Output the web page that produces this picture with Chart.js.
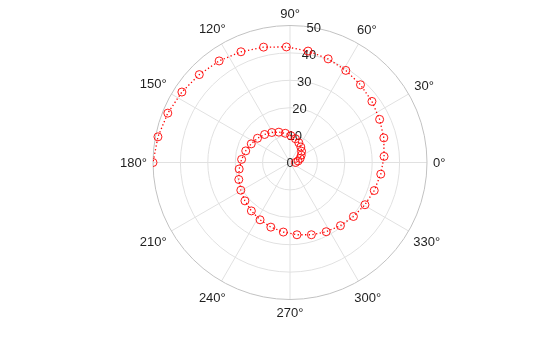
<!DOCTYPE html>
<html>
<head>
<meta charset="utf-8">
<script src="https://cdn.jsdelivr.net/npm/chart.js@4/dist/chart.umd.min.js"></script>
<style>
  html, body { margin: 0; padding: 0; background: #ffffff; }
  #wrap { width: 560px; height: 337px; }
</style>
</head>
<body>
<div id="wrap"><canvas id="c" width="560" height="337"></canvas></div>
<script>
// Angle of each point (degrees) and its radius
const thetaDeg = [0, 11.0, 22.0, 33.1, 44.1, 55.1, 66.1, 77.1, 88.2, 99.2,
  110.2, 121.2, 132.2, 143.3, 154.3, 165.3, 176.3, 187.3, 198.4, 209.4,
  220.4, 231.4, 242.4, 253.5, 264.5, 275.5, 286.5, 297.6, 308.6, 319.6,
  330.6, 341.6, 352.7, 363.7, 374.7, 385.7, 396.7, 407.8, 418.8, 429.8,
  440.8, 451.8, 462.9, 473.9, 484.9, 495.9, 506.9, 518.0, 529.0, 540.0];
const rho = [2.0, 3.0, 4.0, 4.9, 5.9, 6.9, 7.9, 8.9, 9.8, 10.8,
  11.8, 12.8, 13.8, 14.8, 15.7, 16.7, 17.7, 18.7, 19.7, 20.6,
  21.6, 22.6, 23.6, 24.6, 25.5, 26.5, 27.5, 28.5, 29.5, 30.4,
  31.4, 32.4, 33.4, 34.4, 35.4, 36.3, 37.3, 38.3, 39.3, 40.3,
  41.2, 42.2, 43.2, 44.2, 45.2, 46.1, 47.1, 48.1, 49.1, 50.0];
const rTicks = [0, 10, 20, 30, 40, 50];
const rTickLabels = ['0', '10', '20', '30', '40', '50'];
const thetaTicks = [0, 30, 60, 90, 120, 150, 180, 210, 240, 270, 300, 330];
const thetaTickLabels = ['0°', '30°', '60°', '90°', '120°', '150°', '180°', '210°', '240°', '270°', '300°', '330°'];
const rMax = 50;
const rLabelAngle = 80;

const points = thetaDeg.map((t, i) => {
  const a = t * Math.PI / 180;
  return { x: rho[i] * Math.cos(a), y: rho[i] * Math.sin(a) };
});

const FONT = '13px "Liberation Sans", Arial, Helvetica, sans-serif';

const polarGrid = {
  id: 'polarGrid',
  beforeDatasetsDraw(chart) {
    const ctx = chart.ctx;
    const xs = chart.scales.x, ys = chart.scales.y;
    const cx = xs.getPixelForValue(0), cy = ys.getPixelForValue(0);
    const rpx = v => xs.getPixelForValue(v) - cx;
    const R = rpx(rMax);
    ctx.save();
    // spokes
    ctx.strokeStyle = '#e1e1e1';
    ctx.lineWidth = 1;
    thetaTicks.forEach(t => {
      const a = t * Math.PI / 180;
      ctx.beginPath();
      ctx.moveTo(cx, cy);
      ctx.lineTo(cx + R * Math.cos(a), cy - R * Math.sin(a));
      ctx.stroke();
    });
    // circles
    rTicks.forEach(r => {
      if (r <= 0) return;
      ctx.beginPath();
      ctx.arc(cx, cy, rpx(r), 0, Math.PI * 2);
      ctx.strokeStyle = r === rMax ? '#c2c2c2' : '#e1e1e1';
      ctx.stroke();
    });
    // theta labels
    ctx.font = FONT;
    ctx.fillStyle = '#1f1f1f';
    ctx.textAlign = 'center';
    ctx.textBaseline = 'middle';
    thetaTicks.forEach((t, i) => {
      const a = t * Math.PI / 180;
      const txt = thetaTickLabels[i];
      const w = ctx.measureText(txt).width;
      const h = 13;
      const half = Math.abs(Math.cos(a)) * w / 2 + Math.abs(Math.sin(a)) * h / 2;
      const d = R + 6 + half;
      ctx.fillText(txt, cx + d * Math.cos(a), cy - d * Math.sin(a) + 1);
    });
    // r labels
    const ra = rLabelAngle * Math.PI / 180;
    rTicks.forEach((r, i) => {
      const d = rpx(r);
      ctx.fillText(rTickLabels[i], cx + d * Math.cos(ra), cy - d * Math.sin(ra) + 1);
    });
    ctx.restore();
  }
};

new Chart(document.getElementById('c'), {
  type: 'scatter',
  data: {
    datasets: [{
      data: points,
      showLine: true,
      borderColor: '#ff0000',
      borderWidth: 1.3,
      borderDash: [1.3, 2.4],
      backgroundColor: 'rgba(0,0,0,0)',
      pointStyle: 'circle',
      pointRadius: 4,
      pointBorderWidth: 0.9,
      pointBorderColor: '#ff0000',
      pointBackgroundColor: 'rgba(0,0,0,0)',
      fill: false,
      tension: 0
    }]
  },
  options: {
    responsive: false,
    animation: false,
    layout: { padding: { left: 153, right: 133, top: 25.5, bottom: 37.5 } },
    plugins: { legend: { display: false }, tooltip: { enabled: false } },
    scales: {
      x: { type: 'linear', min: -rMax, max: rMax, display: false },
      y: { type: 'linear', min: -rMax, max: rMax, display: false }
    }
  },
  plugins: [polarGrid]
});
</script>
</body>
</html>
